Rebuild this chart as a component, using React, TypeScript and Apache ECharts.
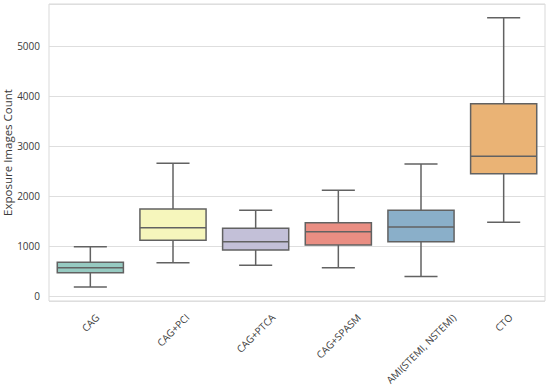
import React, { useEffect, useRef } from "react";
import * as echarts from "echarts";

const categories = ["CAG", "CAG+PCI", "CAG+PTCA", "CAG+SPASM", "AMI(STEMI, NSTEMI)", "CTO"];
const whiskerLow = [180, 667, 613, 567, 390, 1473];
const q1 = [467, 1113, 920, 1020, 1087, 2447];
const median = [567, 1367, 1087, 1287, 1380, 2793];
const q3 = [673, 1740, 1353, 1467, 1713, 3847];
const whiskerHigh = [987, 2653, 1713, 2113, 2640, 5567];
const boxColors = ["#96cac1", "#f6f6bc", "#c3c0d8", "#ea8e83", "#8aafc9", "#eab375"];

const FONT = "'Open Sans', 'Noto Sans', sans-serif";
const LABEL_SIZE = 10;
const TEXT_COLOR = "#3a3a3a";
const Y_MIN = -100;
const Y_MAX = 5840;

function measure(text: string): number {
  const c = document.createElement("canvas");
  const ctx = c.getContext("2d");
  if (!ctx) return text.length * 6;
  ctx.font = `${LABEL_SIZE}px 'Open Sans'`;
  return ctx.measureText(text).width;
}

export default function App() {
  const ref = useRef<HTMLDivElement>(null);
  useEffect(() => {
    document.body.style.margin = "0";
    if (!ref.current) return;
    const chart = echarts.init(ref.current, null, { renderer: "svg" });
    const lineColor = "#626262";
    const data = categories.map((_, i) => [i, whiskerLow[i], q1[i], median[i], q3[i], whiskerHigh[i]]);
    const widths = categories.map((c) => measure(c));
    chart.setOption({
      animation: false,
      backgroundColor: "#ffffff",
      grid: {
        left: 49,
        right: 5,
        top: 4,
        bottom: 87,
        containLabel: false,
        outerBoundsMode: "none",
        show: true,
        borderColor: "#d9d9d9",
        borderWidth: 1,
        backgroundColor: "transparent",
      },
      xAxis: {
        type: "category",
        data: categories,
        axisLine: { show: false },
        axisTick: { show: false },
        splitLine: { show: false },
        axisLabel: { show: false },
      },
      yAxis: {
        type: "value",
        min: Y_MIN,
        max: Y_MAX,
        name: "Exposure Images Count",
        nameLocation: "middle",
        nameGap: 36,
        nameMoveOverlap: false,
        nameTextStyle: { fontSize: 11.5, fontFamily: FONT, color: TEXT_COLOR },
        axisLine: { show: false },
        axisTick: { show: false },
        splitLine: { show: true, lineStyle: { color: "#dedede", width: 1 } },
        axisLabel: {
          margin: 9,
          fontSize: LABEL_SIZE,
          fontFamily: FONT,
          color: TEXT_COLOR,
          showMinLabel: false,
          showMaxLabel: false,
          formatter: (v: number) => (v % 1000 === 0 && v >= 0 ? String(v) : ""),
        },
      },
      series: [
        {
          type: "custom",
          clip: false,
          data,
          renderItem: (params: any, api: any) => {
            const idx = params.dataIndex;
            const i = api.value(0);
            const band = api.size([1, 0])[0];
            const bw = band * 0.8;
            const pLow = api.coord([i, api.value(1)]);
            const pQ1 = api.coord([i, api.value(2)]);
            const pMed = api.coord([i, api.value(3)]);
            const pQ3 = api.coord([i, api.value(4)]);
            const pHigh = api.coord([i, api.value(5)]);
            const pBottom = api.coord([i, Y_MIN]);
            const cx = pLow[0];
            const ls = { stroke: lineColor, lineWidth: 1.5, fill: "none" };
            const w = widths[idx];
            const h = 10;
            const labelY = pBottom[1] + 11 + 0.3536 * (w + h);
            return {
              type: "group",
              children: [
                { type: "line", shape: { x1: cx, y1: pLow[1], x2: cx, y2: pQ1[1] }, style: ls },
                { type: "line", shape: { x1: cx, y1: pQ3[1], x2: cx, y2: pHigh[1] }, style: ls },
                { type: "line", shape: { x1: cx - bw / 4, y1: pLow[1], x2: cx + bw / 4, y2: pLow[1] }, style: ls },
                { type: "line", shape: { x1: cx - bw / 4, y1: pHigh[1], x2: cx + bw / 4, y2: pHigh[1] }, style: ls },
                {
                  type: "rect",
                  shape: { x: cx - bw / 2, y: pQ3[1], width: bw, height: pQ1[1] - pQ3[1] },
                  style: { fill: boxColors[idx], stroke: lineColor, lineWidth: 1.5 },
                },
                { type: "line", shape: { x1: cx - bw / 2, y1: pMed[1], x2: cx + bw / 2, y2: pMed[1] }, style: ls },
                {
                  type: "text",
                  x: cx,
                  y: labelY,
                  rotation: Math.PI / 4,
                  style: {
                    text: categories[idx],
                    align: "center",
                    verticalAlign: "middle",
                    fill: TEXT_COLOR,
                    fontSize: LABEL_SIZE,
                    fontFamily: FONT,
                  },
                },
              ],
            };
          },
        },
      ],
    });
    return () => chart.dispose();
  }, []);
  return <div ref={ref} style={{ width: 550, height: 388 }} />;
}
